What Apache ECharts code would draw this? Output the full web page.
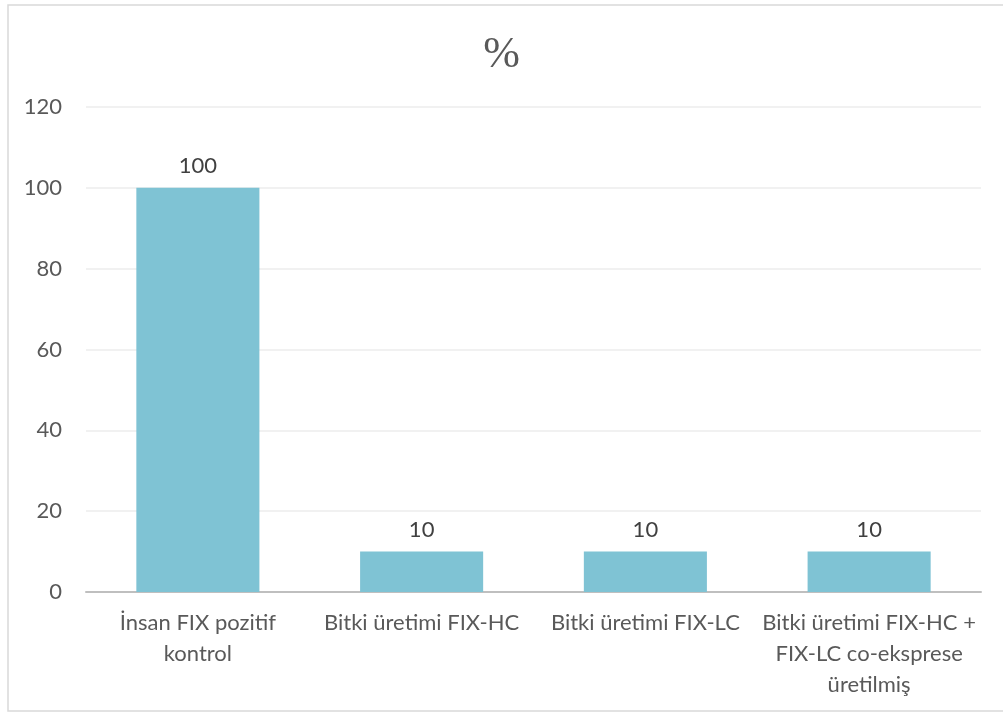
<!DOCTYPE html>
<html><head><meta charset="utf-8">
<script src="https://cdn.jsdelivr.net/npm/echarts@6/dist/echarts.min.js"></script>
<style>html,body{margin:0;padding:0;background:#fff}#c{width:1003px;height:713px}</style>
</head><body><div id="c"></div>
<script>
const categories = ["İnsan FIX pozitif\nkontrol", "Bitki üretimi FIX-HC", "Bitki üretimi FIX-LC", "Bitki üretimi FIX-HC +\nFIX-LC co-eksprese\nüretilmiş"];
const values = [100, 10, 10, 10];
const titleText = "%";
const font = "Lato, 'Open Sans', sans-serif";
const chart = echarts.init(document.getElementById('c'), null, {renderer: 'canvas'});
chart.setOption({
  backgroundColor: '#fff',
  animation: false,
  title: {text: titleText, left: 'center', top: 28, textStyle: {fontFamily: "'Liberation Serif', serif", fontWeight: 'normal', fontSize: 44, color: '#595959'}},
  graphic: [{type: 'rect', shape: {x: 8, y: 5, width: 1000, height: 706}, style: {fill: 'none', stroke: '#d9d9d9', lineWidth: 1.5}, silent: true}],
  grid: {left: 86, right: 22, top: 107, bottom: 121},
  xAxis: {type: 'category', data: categories,
    axisLine: {lineStyle: {color: '#bfbfbf', width: 2}}, axisTick: {show: false},
    axisLabel: {fontFamily: font, fontSize: 22, color: '#595959', lineHeight: 31, margin: 15, interval: 0}},
  yAxis: {type: 'value', min: 0, max: 120, interval: 20,
    axisLine: {show: false}, axisTick: {show: false},
    splitLine: {lineStyle: {color: '#ececec', width: 1.5}},
    axisLabel: {fontFamily: font, fontSize: 22, color: '#595959', margin: 24}},
  series: [{type: 'bar', data: values, barCategoryGap: '45%', itemStyle: {color: '#7fc3d4'},
    label: {show: true, position: 'top', distance: 11, fontFamily: font, fontSize: 22, color: '#404040'}}]
});
</script></body></html>
